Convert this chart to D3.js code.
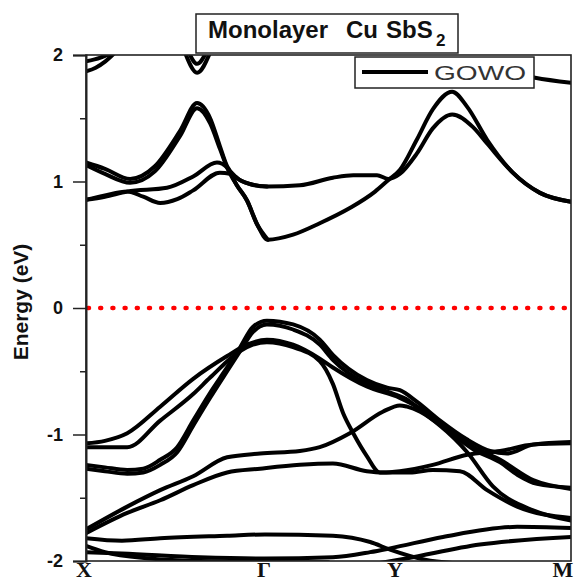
<!DOCTYPE html>
<html>
<head>
<meta charset="utf-8">
<script src="https://cdn.jsdelivr.net/npm/d3@7/dist/d3.min.js"></script>
<style>
  html, body { margin: 0; padding: 0; background: #fff; }
  #chart { width: 578px; height: 583px; }
</style>
</head>
<body>
<div id="chart"></div>
<script>
// high-symmetry points along the k-path (fraction of path length)
const kLabels = ['X', 'Γ', 'Y', 'M'];
const kPositions = [0, 0.371, 0.641, 1];

const energyTicks = [-2, -1, 0, 1, 2];
const energyMinorTicks = [-1.5, -0.5, 0.5, 1.5];
const fermiLevel = 0;

// bands as [k, energy (eV)]
const upperBands = [
  [[0, 1.87], [0.02, 1.90], [0.04, 1.95], [0.06, 2.02]],
  [[0, 1.95], [0.03, 1.98], [0.055, 2.02]],
  [[0.204, 2.02], [0.229, 1.86], [0.256, 2.02]],
  [[0.212, 2.02], [0.229, 1.93], [0.248, 2.02]],
  [[0.80, 1.95], [0.926, 1.82], [1, 1.78]]
];

const conductionBands = [
  [[0, 1.15], [0.039, 1.10], [0.091, 1.02], [0.142, 1.12], [0.194, 1.40], [0.229, 1.62], [0.256, 1.50],
   [0.276, 1.28], [0.291, 1.12], [0.311, 1.03], [0.338, 0.98], [0.373, 0.96], [0.441, 0.97], [0.509, 1.03],
   [0.551, 1.05], [0.600, 1.05], [0.623, 1.02], [0.647, 1.06], [0.682, 1.22], [0.715, 1.42], [0.755, 1.53],
   [0.798, 1.43], [0.827, 1.30], [0.880, 1.07], [0.936, 0.91], [1, 0.84]],
  [[0, 1.13], [0.039, 1.06], [0.091, 0.99], [0.142, 1.08], [0.194, 1.36], [0.229, 1.58], [0.256, 1.46],
   [0.276, 1.26], [0.291, 1.11], [0.311, 0.97], [0.332, 0.85], [0.353, 0.66], [0.375, 0.54], [0.427, 0.58],
   [0.482, 0.67], [0.544, 0.79], [0.596, 0.92], [0.623, 1.01], [0.647, 1.09], [0.682, 1.33], [0.715, 1.57],
   [0.755, 1.71], [0.786, 1.59], [0.827, 1.33], [0.880, 1.07], [0.936, 0.91], [1, 0.84]],
  [[0, 0.855], [0.039, 0.88], [0.085, 0.92], [0.167, 0.95], [0.221, 1.04], [0.270, 1.15], [0.291, 1.11],
   [0.311, 0.97], [0.332, 0.85], [0.353, 0.66], [0.375, 0.54]],
  [[0, 0.855], [0.039, 0.89], [0.085, 0.92], [0.118, 0.88], [0.153, 0.83], [0.188, 0.86], [0.221, 0.93],
   [0.276, 1.07], [0.297, 1.06], [0.318, 1.01], [0.338, 0.98], [0.373, 0.96]]
];

const valenceBands = [
  [[0, -1.24], [0.039, -1.26], [0.085, -1.28], [0.118, -1.27], [0.153, -1.20], [0.188, -1.10], [0.221, -0.89],
   [0.256, -0.67], [0.291, -0.47], [0.318, -0.31], [0.344, -0.15], [0.373, -0.10], [0.427, -0.13], [0.482, -0.25],
   [0.509, -0.37], [0.579, -0.57], [0.621, -0.63], [0.647, -0.65], [0.682, -0.74], [0.730, -0.89], [0.786, -1.04],
   [0.833, -1.13], [0.868, -1.15], [0.922, -1.08], [1, -1.06]],
  [[0, -1.27], [0.039, -1.29], [0.085, -1.31], [0.118, -1.30], [0.153, -1.24], [0.188, -1.14], [0.221, -0.93],
   [0.256, -0.71], [0.291, -0.50], [0.318, -0.34], [0.344, -0.19], [0.373, -0.13], [0.427, -0.17], [0.482, -0.29],
   [0.509, -0.41], [0.579, -0.60], [0.621, -0.66], [0.660, -0.72], [0.700, -0.84], [0.750, -0.98], [0.800, -1.12],
   [0.854, -1.22], [0.890, -1.32], [0.930, -1.39], [1, -1.42]],
  [[0, -1.07], [0.039, -1.05], [0.085, -0.99], [0.153, -0.78], [0.221, -0.56], [0.291, -0.38], [0.332, -0.29],
   [0.373, -0.25], [0.427, -0.29], [0.482, -0.40], [0.509, -0.47], [0.579, -0.62], [0.647, -0.71], [0.700, -0.82],
   [0.750, -0.97], [0.800, -1.10], [0.854, -1.20], [0.922, -1.36], [1, -1.43]],
  [[0, -1.10], [0.039, -1.10], [0.085, -1.10], [0.153, -0.89], [0.221, -0.68], [0.256, -0.55], [0.318, -0.34],
   [0.344, -0.29], [0.373, -0.27], [0.427, -0.31], [0.482, -0.42], [0.509, -0.60], [0.530, -0.83], [0.551, -0.99],
   [0.579, -1.17], [0.606, -1.30], [0.668, -1.30], [0.715, -1.28], [0.771, -1.29], [0.827, -1.44], [0.889, -1.57],
   [1, -1.66]],
  [[0, -1.75], [0.085, -1.57], [0.153, -1.44], [0.221, -1.33], [0.291, -1.18], [0.359, -1.15], [0.441, -1.13],
   [0.482, -1.10], [0.544, -0.99], [0.612, -0.82], [0.647, -0.77], [0.662, -0.78], [0.689, -0.82], [0.730, -0.93],
   [0.786, -1.14], [0.839, -1.41], [0.922, -1.60], [1, -1.68]],
  [[0, -1.78], [0.085, -1.62], [0.153, -1.52], [0.221, -1.40], [0.291, -1.30], [0.359, -1.27], [0.441, -1.24],
   [0.509, -1.23], [0.579, -1.29], [0.612, -1.30], [0.647, -1.29], [0.715, -1.24], [0.786, -1.16], [0.854, -1.13],
   [0.922, -1.08], [1, -1.07]],
  [[0, -1.82], [0.074, -1.84], [0.153, -1.82], [0.291, -1.80], [0.369, -1.79], [0.509, -1.80], [0.586, -1.85],
   [0.627, -1.91], [0.699, -1.99], [0.771, -2.02]],
  [[0, -1.93], [0.074, -1.94], [0.235, -1.97], [0.369, -1.98], [0.509, -1.97], [0.586, -1.93], [0.627, -1.90],
   [0.736, -1.81], [0.889, -1.73], [1, -1.74]],
  [[0.600, -2.02], [0.660, -1.98], [0.812, -1.87], [1, -1.81]],
  [[0, -1.88], [0.039, -1.93], [0.132, -1.98], [0.235, -2.0], [0.5, -2.01]]
];

const config = {
  colors: {
    band: '#000',
    frame: '#222',
    fermi: '#ff0000',
    legendText: '#333'
  },
  margin: { top: 55, right: 7, bottom: 22, left: 86 },
  width: 578,
  height: 583
};

const svg = d3.select('#chart')
  .append('svg')
  .attr('width', config.width)
  .attr('height', config.height)
  .style('display', 'block');

const plotW = config.width - config.margin.left - config.margin.right;
const plotH = config.height - config.margin.top - config.margin.bottom;

const x = d3.scaleLinear().domain([0, 1]).range([config.margin.left, config.margin.left + plotW]);
const y = d3.scaleLinear().domain([-2, 2]).range([config.margin.top + plotH, config.margin.top]);

svg.append('clipPath')
  .attr('id', 'plot-clip')
  .append('rect')
  .attr('x', x(0))
  .attr('y', y(2))
  .attr('width', plotW)
  .attr('height', plotH);

// fermi level
svg.append('line')
  .attr('x1', x(0) + 2)
  .attr('x2', x(1))
  .attr('y1', y(fermiLevel))
  .attr('y2', y(fermiLevel))
  .attr('stroke', config.colors.fermi)
  .attr('stroke-width', 4.5)
  .attr('stroke-linecap', 'round')
  .attr('stroke-dasharray', '1 11.2');

const line = d3.line()
  .x(d => x(d[0]))
  .y(d => y(d[1]))
  .curve(d3.curveMonotoneX);

const bandLayer = svg.append('g').attr('clip-path', 'url(#plot-clip)');

bandLayer.selectAll('.band')
  .data([...upperBands, ...conductionBands, ...valenceBands])
  .enter()
  .append('path')
  .attr('class', 'band')
  .attr('d', line)
  .attr('fill', 'none')
  .attr('stroke', config.colors.band)
  .attr('stroke-width', 4)
  .attr('stroke-linejoin', 'round')
  .attr('stroke-linecap', 'round');

// frame
svg.append('rect')
  .attr('x', x(0))
  .attr('y', y(2))
  .attr('width', plotW)
  .attr('height', plotH)
  .attr('fill', 'none')
  .attr('stroke', config.colors.frame)
  .attr('stroke-width', 1.6);

// y axis
const yAxis = svg.append('g')
  .attr('transform', `translate(${x(0)},0)`)
  .call(d3.axisLeft(y).tickValues(energyTicks).tickSize(13).tickPadding(10).tickFormat(d => String(d)));

svg.append('g')
  .attr('transform', `translate(${x(0)},0)`)
  .call(d3.axisLeft(y).tickValues(energyMinorTicks).tickSize(6).tickFormat(''))
  .call(g => g.select('.domain').remove());

svg.selectAll('.tick line').attr('stroke', config.colors.frame).attr('stroke-width', 1.5);
yAxis.select('.domain').attr('stroke', config.colors.frame).attr('stroke-width', 2);
yAxis.selectAll('.tick text')
  .style('font-family', 'Liberation Sans, Arial, sans-serif')
  .style('font-weight', 'bold')
  .style('font-size', '18px')
  .attr('fill', '#111');

svg.append('text')
  .attr('transform', `translate(28, ${y(0) - 6}) rotate(-90)`)
  .attr('text-anchor', 'middle')
  .style('font-family', 'Liberation Sans, Arial, sans-serif')
  .style('font-weight', 'bold')
  .style('font-size', '21px')
  .attr('fill', '#111')
  .text('Energy (eV)');

// k-point labels
svg.selectAll('.klabel')
  .data(kLabels)
  .enter()
  .append('text')
  .attr('class', 'klabel')
  .attr('x', (d, i) => x(kPositions[i]) + (i === kLabels.length - 1 ? -8 : -2))
  .attr('y', 577)
  .attr('text-anchor', 'middle')
  .style('font-family', 'Liberation Serif, Times New Roman, serif')
  .style('font-weight', 'bold')
  .style('font-size', '22px')
  .attr('fill', '#111')
  .text(d => d);

// title box
svg.append('rect')
  .attr('x', 196).attr('y', 14)
  .attr('width', 262).attr('height', 39)
  .attr('fill', '#fff')
  .attr('stroke', config.colors.frame)
  .attr('stroke-width', 1.5);

const title = svg.append('text')
  .attr('y', 38)
  .style('font-family', 'Liberation Sans, Arial, sans-serif')
  .style('font-weight', 'bold')
  .style('font-size', '24px')
  .attr('fill', '#111');
title.append('tspan').attr('x', 208).text('Monolayer');
title.append('tspan').attr('x', 346).text('Cu');
title.append('tspan').attr('x', 386).text('SbS');
title.append('tspan').attr('x', 436).attr('dy', 8).style('font-size', '17px').text('2');

// legend
const legend = svg.append('g');
legend.append('rect')
  .attr('x', 355).attr('y', 57)
  .attr('width', 179).attr('height', 31)
  .attr('fill', '#fff')
  .attr('stroke', config.colors.frame)
  .attr('stroke-width', 1.5);
legend.append('line')
  .attr('x1', 362).attr('x2', 428)
  .attr('y1', 72).attr('y2', 72)
  .attr('stroke', config.colors.band)
  .attr('stroke-width', 4);
legend.append('text')
  .attr('x', 434).attr('y', 80)
  .attr('textLength', 92)
  .attr('lengthAdjust', 'spacingAndGlyphs')
  .style('font-family', 'Liberation Sans, Arial, sans-serif')
  .style('font-size', '21px')
  .attr('fill', config.colors.legendText)
  .text('GOWO');
</script>
</body>
</html>
